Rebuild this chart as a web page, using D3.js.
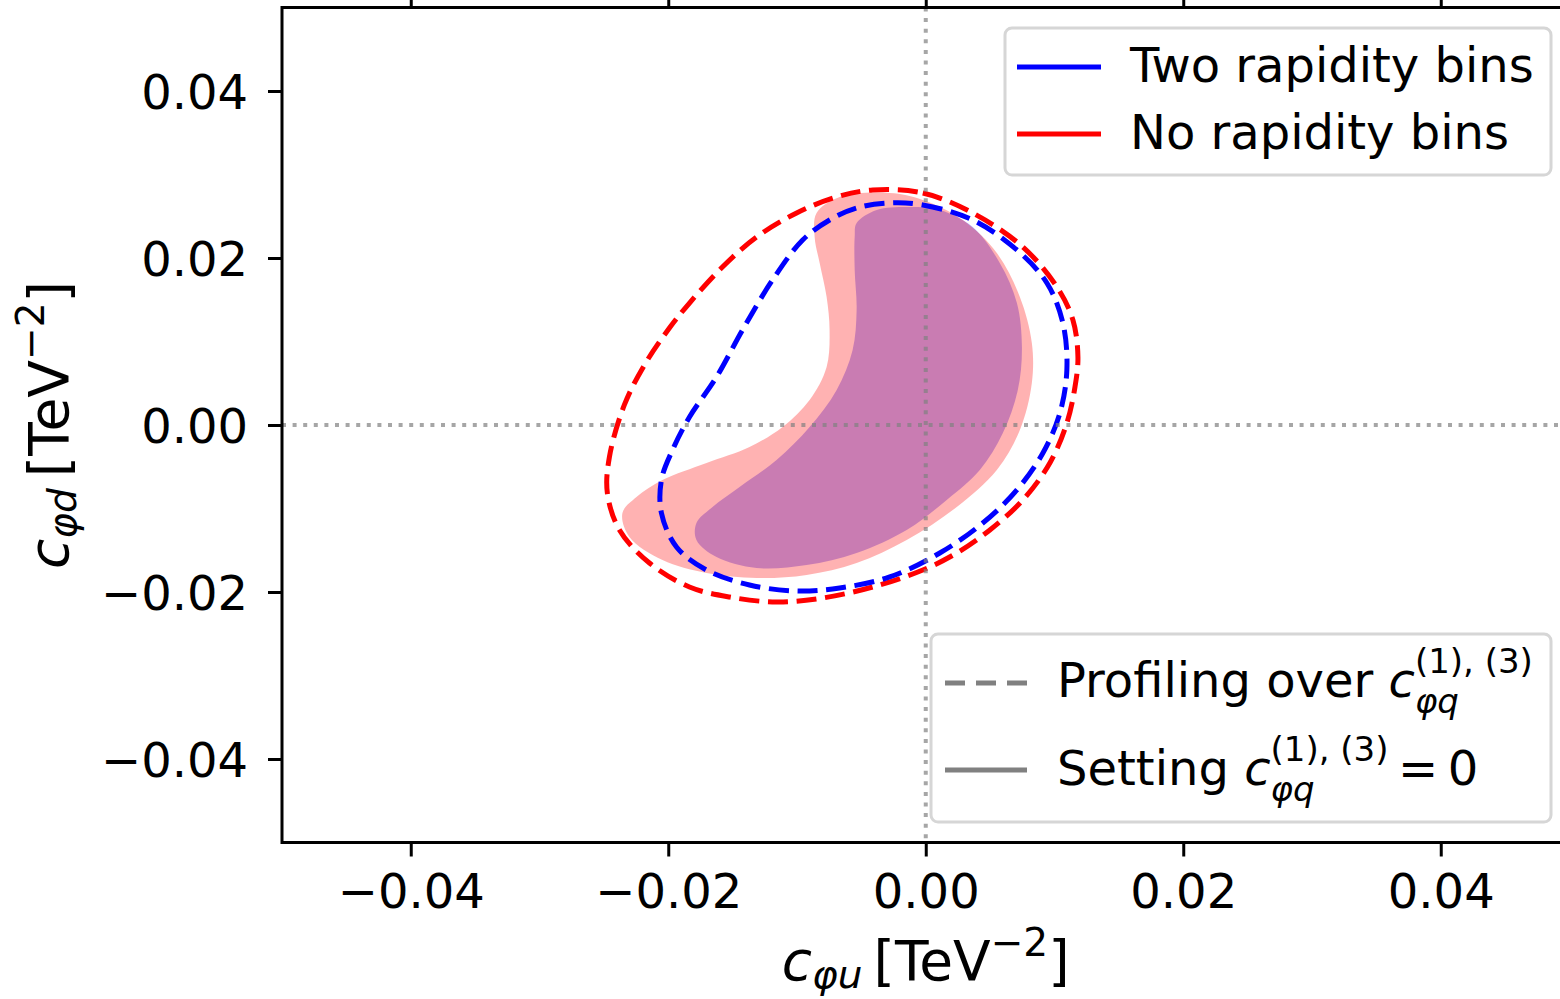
<!DOCTYPE html>
<html>
<head>
<meta charset="utf-8">
<script src="https://cdn.jsdelivr.net/npm/d3@7"></script>
<style>
  body { margin: 0; background: #fff; }
  svg { display: block; }
  text { font-family: "DejaVu Sans", sans-serif; fill: #000; }
</style>
</head>
<body>
<svg id="chart" width="1560" height="999"></svg>
<script>
// Axis settings
const xDomain = [-0.05, 0.05];
const yDomain = [-0.05, 0.05];
const xTicks = [-0.04, -0.02, 0.00, 0.02, 0.04];
const yTicks = [-0.04, -0.02, 0.00, 0.02, 0.04];

// 95% CL contours in the (c_phiu, c_phid) plane, [TeV^-2]
// Profiling over c_phiq^(1),(3): no rapidity bins
const noBinsProfiled = [
  [-0.00412, 0.02814], [-0.00023, 0.02778], [0.00365, 0.02539], [0.00754, 0.02132],
  [0.01019, 0.01653], [0.01143, 0.01257], [0.01182, 0.00814], [0.01159, 0.00455],
  [0.01096, 0.00024], [0.00964, -0.00455], [0.00754, -0.00898], [0.00498, -0.01257],
  [0.00241, -0.01533], [-0.00023, -0.01737], [-0.00412, -0.01940], [-0.00801, -0.02072],
  [-0.01159, -0.02120], [-0.01524, -0.02060], [-0.01835, -0.01940], [-0.02146, -0.01653],
  [-0.02379, -0.01257], [-0.02473, -0.00814], [-0.02457, -0.00383], [-0.02341, 0.00240],
  [-0.02185, 0.00719], [-0.01991, 0.01162], [-0.01835, 0.01461], [-0.01579, 0.01892],
  [-0.01314, 0.02251], [-0.01003, 0.02539], [-0.00692, 0.02731]
];
// Profiling over c_phiq^(1),(3): two rapidity bins
const twoBinsProfiled = [
  [-0.00280, 0.02659], [-0.00023, 0.02635], [0.00365, 0.02455], [0.00708, 0.02096],
  [0.00941, 0.01701], [0.01065, 0.01222], [0.01096, 0.00659], [0.01042, 0.00144],
  [0.00910, -0.00335], [0.00708, -0.00778], [0.00443, -0.01174], [0.00109, -0.01533],
  [-0.00280, -0.01820], [-0.00669, -0.01952], [-0.01003, -0.01988], [-0.01369, -0.01916],
  [-0.01703, -0.01737], [-0.01936, -0.01461], [-0.02053, -0.01054], [-0.02053, -0.00659],
  [-0.01967, -0.00299], [-0.01835, 0.00096], [-0.01625, 0.00575], [-0.01423, 0.01138],
  [-0.01190, 0.01737], [-0.00956, 0.02216], [-0.00747, 0.02455], [-0.00537, 0.02599]
];
// Setting c_phiq^(1),(3) = 0: no rapidity bins
const noBinsFixed = [
  [-0.00848, 0.02539], [-0.00669, 0.02731], [-0.00280, 0.02778], [-0.00023, 0.02695],
  [0.00288, 0.02455], [0.00552, 0.02060], [0.00731, 0.01533], [0.00824, 0.00982],
  [0.00824, 0.00503], [0.00731, -0.00060], [0.00552, -0.00539], [0.00241, -0.00982],
  [-0.00148, -0.01377], [-0.00537, -0.01653], [-0.00925, -0.01796], [-0.01314, -0.01832],
  [-0.01703, -0.01772], [-0.02045, -0.01617], [-0.02302, -0.01341], [-0.02356, -0.01054],
  [-0.02247, -0.00862], [-0.02045, -0.00659], [-0.01703, -0.00455], [-0.01369, -0.00263],
  [-0.01112, -0.00024], [-0.00902, 0.00299], [-0.00770, 0.00695], [-0.00747, 0.01138],
  [-0.00770, 0.01533], [-0.00824, 0.01940], [-0.00863, 0.02251]
];
// Setting c_phiq^(1),(3) = 0: two rapidity bins
const twoBinsFixed = [
  [-0.00537, 0.02419], [-0.00381, 0.02575], [-0.00148, 0.02611], [0.00109, 0.02575],
  [0.00365, 0.02371], [0.00575, 0.01940], [0.00708, 0.01461], [0.00747, 0.00934],
  [0.00715, 0.00419], [0.00599, -0.00096], [0.00420, -0.00539], [0.00163, -0.00898],
  [-0.00148, -0.01257], [-0.00537, -0.01533], [-0.00925, -0.01677], [-0.01314, -0.01713],
  [-0.01625, -0.01581], [-0.01781, -0.01377], [-0.01781, -0.01174], [-0.01656, -0.00982],
  [-0.01446, -0.00743], [-0.01159, -0.00419], [-0.00902, -0.00024], [-0.00692, 0.00419],
  [-0.00568, 0.00898], [-0.00537, 0.01377], [-0.00552, 0.01856], [-0.00552, 0.02251]
];

const seriesLabels = ["Two rapidity bins", "No rapidity bins"];
const seriesColors = ["#0000ff", "#ff0000"];

// Layout
const plot = { left: 282, right: 1569.5, top: 7.5, bottom: 842.5 };
const FS = 48;      // tick and legend text
const LFS = 55;     // axis label text
const DASH = "20 8.7";

const svg = d3.select("#chart");
const x = d3.scaleLinear().domain(xDomain).range([plot.left, plot.right]);
const y = d3.scaleLinear().domain(yDomain).range([plot.bottom, plot.top]);

svg.append("defs").append("clipPath").attr("id", "plotClip")
  .append("rect")
  .attr("x", plot.left).attr("y", plot.top)
  .attr("width", plot.right - plot.left).attr("height", plot.bottom - plot.top);

const g = svg.append("g").attr("clip-path", "url(#plotClip)");

const contour = d3.line()
  .x(d => x(d[0])).y(d => y(d[1]))
  .curve(d3.curveCatmullRomClosed.alpha(0.5));

// Filled regions (parameters fixed to zero)
g.append("path").attr("d", contour(twoBinsFixed))
  .attr("fill", seriesColors[0]).attr("fill-opacity", 0.3).attr("stroke", "none");
g.append("path").attr("d", contour(noBinsFixed))
  .attr("fill", seriesColors[1]).attr("fill-opacity", 0.3).attr("stroke", "none");

// Dashed contours (profiled)
g.append("path").attr("d", contour(noBinsProfiled))
  .attr("fill", "none").attr("stroke", seriesColors[1])
  .attr("stroke-width", 5).attr("stroke-dasharray", DASH);
g.append("path").attr("d", contour(twoBinsProfiled))
  .attr("fill", "none").attr("stroke", seriesColors[0])
  .attr("stroke-width", 5).attr("stroke-dasharray", DASH);

// Reference lines through the SM point
g.append("line")
  .attr("x1", x(0)).attr("x2", x(0)).attr("y1", plot.top).attr("y2", plot.bottom)
  .attr("stroke", "#808080").attr("stroke-opacity", 0.7)
  .attr("stroke-width", 4).attr("stroke-dasharray", "4 6.6");
g.append("line")
  .attr("x1", plot.left).attr("x2", plot.right).attr("y1", y(0)).attr("y2", y(0))
  .attr("stroke", "#808080").attr("stroke-opacity", 0.7)
  .attr("stroke-width", 4).attr("stroke-dasharray", "4 6.6");

// Axes
const fmt = d3.format(".2f");
function styleAxis(sel) {
  sel.select(".domain").remove();
  sel.selectAll(".tick line").attr("stroke", "#000").attr("stroke-width", 3);
  sel.selectAll(".tick text")
    .style("font-family", "DejaVu Sans").style("font-size", FS + "px").attr("fill", "#000");
}
const xAxisBottom = svg.append("g").attr("transform", `translate(0,${plot.bottom})`)
  .call(d3.axisBottom(x).tickValues(xTicks).tickFormat(fmt).tickSize(14).tickPadding(14));
styleAxis(xAxisBottom);
xAxisBottom.selectAll(".tick text").attr("dy", "0.71em").attr("y", 31);

const xAxisTop = svg.append("g").attr("transform", `translate(0,${plot.top})`)
  .call(d3.axisTop(x).tickValues(xTicks).tickFormat("").tickSize(14));
styleAxis(xAxisTop);

const yAxisLeft = svg.append("g").attr("transform", `translate(${plot.left},0)`)
  .call(d3.axisLeft(y).tickValues(yTicks).tickFormat(fmt).tickSize(14).tickPadding(20));
styleAxis(yAxisLeft);
yAxisLeft.selectAll(".tick text").attr("dy", "0.36em");

// Spines
svg.append("rect")
  .attr("x", plot.left).attr("y", plot.top)
  .attr("width", plot.right - plot.left).attr("height", plot.bottom - plot.top)
  .attr("fill", "none").attr("stroke", "#000").attr("stroke-width", 3);

// Axis labels
function axisLabel(t, sub) {
  const s = Math.round(LFS * 0.7);
  t.append("tspan").attr("font-style", "italic").text("c");
  t.append("tspan").attr("font-style", "italic").attr("font-size", s).attr("dy", 8).text(sub);
  t.append("tspan").attr("dy", -8).text("\u2009[TeV");
  t.append("tspan").attr("font-size", s).attr("dy", -24).text("−2");
  t.append("tspan").attr("dy", 24).text("]");
}
const xl = svg.append("text")
  .attr("x", x(0)).attr("y", 980).attr("text-anchor", "middle").style("font-size", LFS + "px");
axisLabel(xl, "φu");

const yl = svg.append("text")
  .attr("transform", `translate(68,${y(0)}) rotate(-90)`)
  .attr("text-anchor", "middle").style("font-size", LFS + "px");
axisLabel(yl, "φd");

// Legend: data sets
const leg1 = svg.append("g");
leg1.append("rect")
  .attr("x", 1005).attr("y", 28).attr("width", 546).attr("height", 147).attr("rx", 7)
  .attr("fill", "#fff").attr("fill-opacity", 0.8)
  .attr("stroke", "#d6d6d6").attr("stroke-width", 3);
seriesLabels.forEach((lab, i) => {
  const cy = 67 + i * 67;
  leg1.append("line").attr("x1", 1017).attr("x2", 1101).attr("y1", cy).attr("y2", cy)
    .attr("stroke", seriesColors[i]).attr("stroke-width", 5);
  leg1.append("text").attr("x", 1130).attr("y", cy + 15).style("font-size", FS + "px").text(lab);
});

// Legend: line styles
const leg2 = svg.append("g");
leg2.append("rect")
  .attr("x", 931).attr("y", 634).attr("width", 620).attr("height", 188).attr("rx", 7)
  .attr("fill", "#fff").attr("fill-opacity", 0.8)
  .attr("stroke", "#d6d6d6").attr("stroke-width", 3);
leg2.append("line").attr("x1", 945).attr("x2", 1027).attr("y1", 683).attr("y2", 683)
  .attr("stroke", "#808080").attr("stroke-width", 5).attr("stroke-dasharray", "20 11");
leg2.append("line").attr("x1", 945).attr("x2", 1027).attr("y1", 770).attr("y2", 770)
  .attr("stroke", "#808080").attr("stroke-width", 5);

const SS = 34; // script size in legend
const t1 = leg2.append("text").attr("x", 1057).attr("y", 697).style("font-size", FS + "px");
t1.append("tspan").text("Profiling over ");
t1.append("tspan").attr("font-style", "italic").text("c");
t1.append("tspan").attr("font-size", SS).attr("dy", -24).text("(1), (3)");
const t1sub = leg2.append("text").attr("y", 713).style("font-size", SS + "px")
  .attr("font-style", "italic").text("φq");

const t2 = leg2.append("text").attr("x", 1057).attr("y", 785).style("font-size", FS + "px");
t2.append("tspan").text("Setting ");
t2.append("tspan").attr("font-style", "italic").text("c");
t2.append("tspan").attr("font-size", SS).attr("dy", -24).text("(1), (3)");
t2.append("tspan").attr("dy", 24).text("\u2009=\u20090");
const t2sub = leg2.append("text").attr("y", 801).style("font-size", SS + "px")
  .attr("font-style", "italic").text("φq");

// stacked scripts: subscript starts where the superscript starts
function placeSub(textSel, subSel) {
  const n = textSel.node();
  const start = n.getStartPositionOfChar(n.textContent.indexOf("(1)"));
  subSel.attr("x", start.x);
}
placeSub(t1, t1sub);
placeSub(t2, t2sub);
</script>
</body>
</html>
